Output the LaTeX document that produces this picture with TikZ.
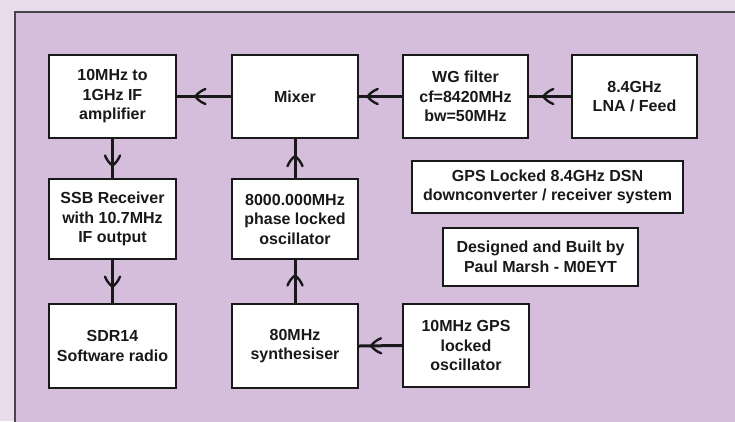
\documentclass[tikz,border=0pt]{standalone}
\usepackage{fontspec}
\setmainfont{Liberation Sans}
\usetikzlibrary{decorations.markings}
\definecolor{outerbg}{RGB}{232,220,236}
\definecolor{panelbg}{RGB}{212,190,220}
\definecolor{linecol}{RGB}{25,25,25}
\begin{document}
\begin{tikzpicture}[x=1pt,y=-1pt,
  box/.style={draw=linecol, fill=white, line width=2.2pt, align=center,
    font=\bfseries\fontsize{16}{19.5}\selectfont, text=linecol, inner sep=0pt},
  conn/.style={draw=linecol, line width=3pt},
  midarrow/.style={postaction={decorate}, decoration={markings,
    mark=at position #1 with {\draw[linecol, line width=2.4pt, line cap=round, line join=round]
      (-10pt,-7.5pt) .. controls (-6pt,-6pt) and (-2pt,-3pt) .. (0pt,0pt)
      .. controls (-2pt,3pt) and (-6pt,6pt) .. (-10pt,7.5pt);}}},
  midarrow/.default=0.65]
\useasboundingbox (0,0) rectangle (735,421);
\fill[outerbg] (0,0) rectangle (735,421);
\filldraw[fill=panelbg, draw=linecol!80, line width=1.2pt] (15,12) rectangle (745,431);

\node[box, minimum width=127pt, minimum height=83pt] (ifamp) at (112.5,96.5) {10MHz to\\1GHz IF\\amplifier};
\node[box, minimum width=126pt, minimum height=83pt] (mixer) at (295,96.5) {Mixer};
\node[box, minimum width=125pt, minimum height=83pt] (wg) at (465.5,96.5) {WG filter\\cf=8420MHz\\bw=50MHz};
\node[box, minimum width=125pt, minimum height=83pt] (lna) at (634.5,96.5) {8.4GHz\\LNA / Feed};
\node[box, minimum width=127pt, minimum height=80pt] (ssb) at (112.5,219) {SSB Receiver\\with 10.7MHz\\IF output};
\node[box, minimum width=126pt, minimum height=80pt] (plo) at (295,219) {8000.000MHz\\phase locked\\oscillator};
\node[box, minimum width=127pt, minimum height=84pt] (sdr) at (112.5,346) {SDR14\\Software radio};
\node[box, minimum width=126pt, minimum height=84pt] (synth) at (295,346) {80MHz\\synthesiser};
\node[box, minimum width=126pt, minimum height=83pt] (gpsosc) at (466,345.5) {10MHz GPS\\locked\\oscillator};
\node[box, minimum width=271pt, minimum height=52pt] (title) at (547.5,187) {GPS Locked 8.4GHz DSN\\downconverter / receiver system};
\node[box, minimum width=195pt, minimum height=58pt] (credit) at (540.5,257) {Designed and Built by\\Paul Marsh - M0EYT};

\draw[conn, midarrow=0.66] (mixer.west) -- (ifamp.east);
\draw[conn, midarrow=0.8] (wg.west) -- (mixer.east);
\draw[conn, midarrow=0.66] (lna.west) -- (wg.east);
\draw[conn, midarrow=0.72] (gpsosc.west) -- (synth.east);
\draw[conn, midarrow=0.68] (ifamp.south) -- (ssb.north);
\draw[conn, midarrow=0.62] (ssb.south) -- (sdr.north);
\draw[conn, midarrow=0.64] (synth.north) -- (plo.south);
\draw[conn, midarrow=0.56] (plo.north) -- (mixer.south);
\end{tikzpicture}
\end{document}
